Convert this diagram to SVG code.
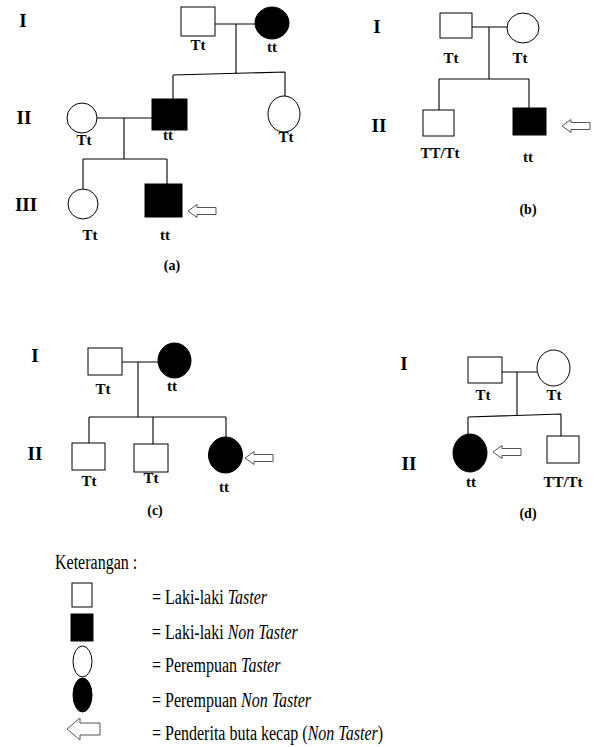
<svg xmlns="http://www.w3.org/2000/svg" width="594" height="747" viewBox="0 0 594 747">
<style>
.o{fill:#fff;stroke:#000;stroke-width:1}
.f{fill:#000;stroke:#000;stroke-width:1}
.c{fill:none;stroke:#000;stroke-width:1.1}
.g{font-family:"Liberation Serif","Times New Roman",serif;font-weight:bold;font-size:15px;text-anchor:middle;fill:#000}
.r{font-family:"Liberation Serif","Times New Roman",serif;font-weight:bold;font-size:19px;text-anchor:middle;fill:#000}
.p{font-family:"Liberation Serif","Times New Roman",serif;font-weight:bold;font-size:14px;text-anchor:middle;fill:#000}
.k{font-family:"Liberation Serif","Times New Roman",serif;font-size:20px;fill:#000}
.i{font-style:italic}
.ar{fill:#fff;stroke:#555;stroke-width:1}
</style>
<defs>
<path id="arrow" d="M0,0 L9,-6.5 L9,-3.5 L28,-3.5 L28,3.5 L9,3.5 L9,6.5 Z"/>
</defs>

<g id="connectors">
<path class="c" d="M215,24 H255 M236,24 V74 M173,75 L285,72 M173,75 V99 M285,72 V96 M97,118 H152 M124,118 V159 M83,159 H167 M83,159 V189 M167,159 V184"/>
<path class="c" d="M472,27 H507 M489,27 V79 M439,79 H529 M439,79 V110 M529,79 V108"/>
<path class="c" d="M122,362 H158 M138,362 V417 M89,417 H226 M89,417 V443 M153,417 V444 M226,417 V437"/>
<path class="c" d="M502,372 H537 M517,372 V416 M468,417 L561,414 M468,417 V434 M561,414 V436"/>
</g>

<g id="panel-a-labels">
<text class="r" x="23" y="27">I</text>
<text class="r" x="24" y="124">II</text>
<text class="r" x="26" y="211">III</text>
<text class="p" x="172" y="270">(a)</text>
</g>
<g id="a-I-1"><rect class="o" x="181" y="7" width="34" height="29"/><text class="g" x="198" y="50">Tt</text></g>
<g id="a-I-2"><ellipse class="f" cx="272" cy="23" rx="17" ry="16"/><text class="g" x="272" y="52">tt</text></g>
<g id="a-II-1"><ellipse class="o" cx="82" cy="118" rx="15" ry="15"/><text class="g" x="84" y="145">Tt</text></g>
<g id="a-II-2"><rect class="f" x="152" y="99" width="35" height="31"/><text class="g" x="168" y="140">tt</text></g>
<g id="a-II-3"><ellipse class="o" cx="284" cy="114" rx="16" ry="18"/><text class="g" x="286" y="142">Tt</text></g>
<g id="a-III-1"><ellipse class="o" cx="83" cy="204" rx="15" ry="15"/><text class="g" x="90" y="240">Tt</text></g>
<g id="a-III-2"><rect class="f" x="145" y="184" width="37" height="33"/><text class="g" x="165" y="240">tt</text><use href="#arrow" class="ar" x="188" y="211"/></g>

<g id="panel-b-labels">
<text class="r" x="377" y="33">I</text>
<text class="r" x="379" y="132">II</text>
<text class="p" x="528" y="214">(b)</text>
</g>
<g id="b-I-1"><rect class="o" x="440" y="13" width="32" height="25"/><text class="g" x="451" y="63">Tt</text></g>
<g id="b-I-2"><ellipse class="o" cx="523" cy="28" rx="16" ry="15"/><text class="g" x="520" y="63">Tt</text></g>
<g id="b-II-1"><rect class="o" x="423" y="110" width="31" height="26"/><text class="g" x="440" y="158">TT/Tt</text></g>
<g id="b-II-2"><rect class="f" x="513" y="108" width="33" height="27"/><text class="g" x="528" y="162">tt</text><use href="#arrow" class="ar" x="562" y="126"/></g>

<g id="panel-c-labels">
<text class="r" x="35" y="362">I</text>
<text class="r" x="35" y="460">II</text>
<text class="p" x="155" y="515">(c)</text>
</g>
<g id="c-I-1"><rect class="o" x="88" y="348" width="34" height="27"/><text class="g" x="103" y="394">Tt</text></g>
<g id="c-I-2"><ellipse class="f" cx="174.5" cy="360.5" rx="16.5" ry="17.5"/><text class="g" x="172" y="391">tt</text></g>
<g id="c-II-1"><rect class="o" x="72" y="443" width="33" height="27"/><text class="g" x="89" y="486">Tt</text></g>
<g id="c-II-2"><rect class="o" x="134" y="444" width="34" height="28"/><text class="g" x="151" y="483">Tt</text></g>
<g id="c-II-3"><ellipse class="f" cx="225.5" cy="455" rx="17" ry="18"/><text class="g" x="224" y="492">tt</text><use href="#arrow" class="ar" x="245" y="458"/></g>

<g id="panel-d-labels">
<text class="r" x="404" y="370">I</text>
<text class="r" x="409" y="470">II</text>
<text class="p" x="528" y="518">(d)</text>
</g>
<g id="d-I-1"><rect class="o" x="468" y="357" width="34" height="26"/><text class="g" x="483" y="400">Tt</text></g>
<g id="d-I-2"><ellipse class="o" cx="553.5" cy="368" rx="16.5" ry="18"/><text class="g" x="554" y="400">Tt</text></g>
<g id="d-II-1"><ellipse class="f" cx="470" cy="453" rx="17" ry="19"/><text class="g" x="471" y="487">tt</text><use href="#arrow" class="ar" x="493" y="452"/></g>
<g id="d-II-2"><rect class="o" x="547" y="436" width="32" height="27"/><text class="g" x="563" y="487">TT/Tt</text></g>

<g id="legend">
<text class="k" transform="translate(55,569) scale(0.8,1)">Keterangan :</text>
<rect class="o" x="72" y="583" width="20" height="24"/>
<text class="k" transform="translate(152,604) scale(0.8,1)">= Laki-laki <tspan class="i">Taster</tspan></text>
<rect class="f" x="71" y="614" width="22" height="27"/>
<text class="k" transform="translate(152,639) scale(0.8,1)">= Laki-laki <tspan class="i">Non Taster</tspan></text>
<ellipse class="o" cx="82.5" cy="661.5" rx="9.5" ry="15.5"/>
<text class="k" transform="translate(152,672) scale(0.8,1)">= Perempuan <tspan class="i">Taster</tspan></text>
<ellipse class="f" cx="82.5" cy="695" rx="9.5" ry="17"/>
<text class="k" transform="translate(152,707) scale(0.8,1)">= Perempuan <tspan class="i">Non Taster</tspan></text>
<path class="ar" d="M67,729 L80,718 L80,723 L100,723 L100,735 L80,735 L80,740 Z"/>
<text class="k" transform="translate(152,740) scale(0.8,1)">= Penderita buta kecap (<tspan class="i">Non Taster</tspan>)</text>
</g>
</svg>
